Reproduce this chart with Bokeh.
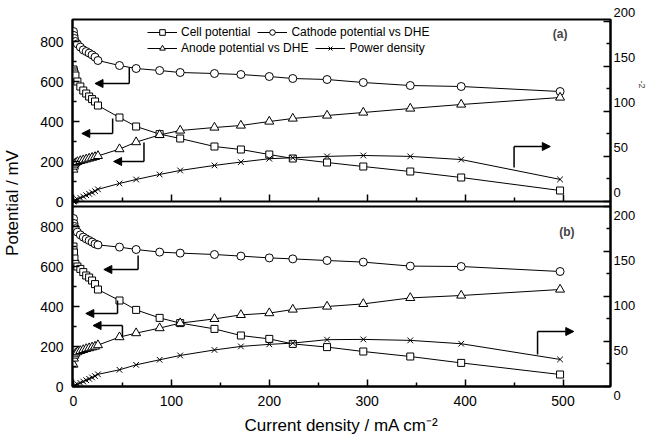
from bokeh.plotting import figure
from bokeh.models import (Range1d, LinearAxis, FixedTicker, Legend, LegendItem, Arrow,
                          NormalHead, Label, Span, Title)
from bokeh.embed import file_html
from bokeh.resources import INLINE

# ---------------- data ----------------
current = [0, 0.5, 1, 2, 4, 7, 10, 13, 16, 19, 22, 25, 47, 64, 88, 109, 144, 171,
           200, 224, 259, 296, 344, 396, 497]

# panel (a)
cell_a = [660, 650, 640, 630, 600, 575, 555, 540, 525, 512, 500, 480, 420, 375, 337, 315,
          275, 260, 235, 215, 195, 175, 150, 120, 55]
cathode_a = [850, 830, 815, 800, 788, 772, 758, 750, 742, 733, 722, 705, 680, 665, 655, 645,
             640, 635, 625, 615, 610, 595, 580, 575, 550]
anode_a = [160, 175, 185, 192, 198, 203, 207, 211, 215, 219, 223, 228, 262, 297, 333, 355,
           370, 380, 400, 415, 430, 445, 465, 485, 520]
power_a = [0, 0.5, 1, 1.5, 2.5, 4, 5.5, 7, 8.5, 10, 11.5, 13.5, 20, 24.4, 30, 34.4,
           40, 43.7, 47.4, 48.5, 50, 51, 50, 46.5, 24.5]

# panel (b)
cell_b = [700, 670, 640, 613, 600, 588, 572, 555, 545, 530, 512, 485, 430, 383, 343, 317,
          288, 255, 238, 213, 197, 175, 150, 118, 60]
cathode_b = [840, 815, 800, 789, 772, 758, 747, 738, 730, 722, 713, 708, 697, 685, 672, 667,
             660, 652, 643, 638, 630, 622, 602, 600, 575]
anode_b = [110, 140, 155, 165, 172, 178, 183, 188, 192, 196, 200, 207, 247, 267, 292, 317,
           338, 358, 367, 385, 400, 413, 443, 455, 485]
power_b = [0, 0.5, 1, 1.5, 2.5, 4, 5.5, 7, 8.5, 10, 11.5, 13.5, 18.5, 24, 29.6, 34.4,
           40.5, 44.4, 46.7, 48.1, 51.9, 52.2, 51.1, 47.4, 30]

series_labels = ["Cell potential", "Cathode potential vs DHE",
                 "Anode potential vs DHE", "Power density"]

x_ticks = [0, 100, 200, 300, 400, 500]
x_minor = [50, 150, 250, 350, 450]
pot_ticks = [0, 200, 400, 600, 800]
pot_minor = [100, 300, 500, 700]
pow_ticks = [0, 50, 100, 150, 200]
pow_minor = [25, 75, 125, 175]

# arrows pointing to the axis used by each curve: [vertical x, y from, y to, tip x]
arrows_a = [[57, 670, 590, 22], [40, 415, 340, 8.5], [72, 295, 200, 41], [450, 170, 275, 487]]
arrows_b = [[66, 655, 585, 31], [45, 430, 365, 12.6], [50, 245, 305, 20], [474, 160, 275, 511]]

# ---------------- layout ----------------
FONT = "Liberation Sans"
X0, X1 = -1.0, 548.5
LEFT_SPAN = 1835            # panel (b) potential scale across the whole frame
TOP_SHIFT = 925             # panel (a) zero, expressed on that scale
R_SPAN = 406.7              # panel (b) power scale across the whole frame
R_SHIFT = 205               # panel (a) power zero, expressed on that scale

p = figure(width=646, height=441, x_range=Range1d(X0, X1), y_range=Range1d(0, LEFT_SPAN),
           output_backend="svg", toolbar_location=None, x_axis_type=None, y_axis_type=None,
           min_border_left=72, min_border_right=36, min_border_top=19, min_border_bottom=55)
p.extra_y_ranges = {
    "topL": Range1d(-TOP_SHIFT, LEFT_SPAN - TOP_SHIFT),
    "topR": Range1d(-R_SHIFT, R_SPAN - R_SHIFT),
    "botR": Range1d(0, R_SPAN),
}
p.grid.visible = False
p.outline_line_color = "black"
p.outline_line_width = 2
p.background_fill_color = "white"
p.border_fill_color = "white"


def style_axis(ax, size="14px"):
    ax.axis_line_width = 2
    ax.axis_line_color = "black"
    ax.major_tick_in = 7
    ax.major_tick_out = 0
    ax.minor_tick_in = 4
    ax.minor_tick_out = 0
    ax.major_tick_line_width = 1.5
    ax.minor_tick_line_width = 1.5
    ax.major_label_text_font = FONT
    ax.major_label_text_font_size = size
    ax.major_label_text_color = "black"
    ax.axis_label_text_font = FONT
    ax.axis_label_text_font_style = "normal"
    ax.axis_label_text_font_size = "17px"
    ax.axis_label_text_color = "black"


# bottom x axis
xb = LinearAxis(ticker=FixedTicker(ticks=x_ticks, minor_ticks=x_minor),
                axis_label="Current density / mA cm\u207b\u00b2")
style_axis(xb)
xb.major_label_standoff = 9
xb.axis_label_standoff = 7
p.add_layout(xb, "below")

# axis line + ticks closing the bottom of panel (a)
xt = LinearAxis(ticker=FixedTicker(ticks=x_ticks, minor_ticks=x_minor),
                fixed_location=TOP_SHIFT,
                major_label_overrides={t: "" for t in x_ticks})
style_axis(xt)
p.add_layout(xt, "below")

# top edge of panel (b)
p.add_layout(Span(location=900, dimension="width", line_color="black", line_width=2))

# left axis: both panels' potential ticks on one axis
left_ticks = pot_ticks + [t + TOP_SHIFT for t in pot_ticks]
left_minor = pot_minor + [t + TOP_SHIFT for t in pot_minor]
yl = LinearAxis(ticker=FixedTicker(ticks=left_ticks, minor_ticks=left_minor),
                axis_label="Potential / mV",
                major_label_overrides={t + TOP_SHIFT: str(t) for t in pot_ticks})
style_axis(yl)
yl.major_label_standoff = 9
yl.axis_label_standoff = 15
p.add_layout(yl, "left")

# right axis: both panels' power-density ticks on one axis
right_ticks = pow_ticks + [t + R_SHIFT for t in pow_ticks]
right_minor = pow_minor + [t + R_SHIFT for t in pow_minor]
right_labels = {t: "\n" + str(t) for t in pow_ticks}
right_labels.update({t + R_SHIFT: str(t) + "\n" for t in pow_ticks})
yr = LinearAxis(y_range_name="botR",
                ticker=FixedTicker(ticks=right_ticks, minor_ticks=right_minor),
                major_label_overrides=right_labels)
style_axis(yr, size="13px")
yr.major_label_standoff = 3
p.add_layout(yr, "right")

# visible end of the (cropped) right-hand axis title
p.add_layout(Title(text="-2", text_font=FONT, text_font_size="9px", text_font_style="normal",
                   standoff=0, align="left", offset=61), "right")

# ---------------- series ----------------
markers = ["square", "circle", "triangle", "x"]
sizes = [7, 8, 9, 8]


def draw_panel(cell, cath, anode, power, lrange, prange):
    rs = []
    for ys, mk, sz, rng in ((cell, markers[0], sizes[0], lrange),
                            (cath, markers[1], sizes[1], lrange),
                            (anode, markers[2], sizes[2], lrange),
                            (power, markers[3], sizes[3], prange)):
        kw = {} if rng == "default" else {"y_range_name": rng}
        ln = p.line(current, ys, line_color="black", line_width=1, **kw)
        sc = p.scatter(current, ys, marker=mk, size=sz, fill_color="white",
                       line_color="black", line_width=1, **kw)
        rs.append((ln, sc))
    return rs


rs_a = draw_panel(cell_a, cathode_a, anode_a, power_a, "topL", "topR")
rs_b = draw_panel(cell_b, cathode_b, anode_b, power_b, "default", "botR")

# arrows
for arrs, rng in ((arrows_a, "topL"), (arrows_b, "default")):
    for ax_, y0, y1, tip in arrs:
        p.add_layout(Arrow(end=None, x_start=ax_, y_start=y0, x_end=ax_, y_end=y1,
                           line_color="black", line_width=1.5, y_range_name=rng))
        p.add_layout(Arrow(end=NormalHead(size=8, fill_color="black", line_color="black"),
                           x_start=ax_, y_start=y1, x_end=tip, y_end=y1,
                           line_color="black", line_width=1.5, y_range_name=rng))

# legends (two rows)
leg_common = dict(orientation="horizontal", border_line_color=None, background_fill_alpha=0,
                  padding=0, margin=0, spacing=7, label_standoff=4, glyph_width=30,
                  glyph_height=14, label_height=14, label_text_font=FONT,
                  label_text_font_size="12px", label_text_color="black")
leg1 = Legend(items=[LegendItem(label=series_labels[0], renderers=list(rs_a[0])),
                     LegendItem(label=series_labels[1], renderers=list(rs_a[1]))],
              location=(75, 347), **leg_common)
leg2 = Legend(items=[LegendItem(label=series_labels[2], renderers=list(rs_a[2])),
                     LegendItem(label=series_labels[3], renderers=list(rs_a[3]))],
              location=(75, 331), **leg_common)
p.add_layout(leg1)
p.add_layout(leg2)

# panel tags
p.add_layout(Label(x=497, y=840, y_range_name="topL", text="(a)", text_font=FONT,
                   text_font_size="12px", text_font_style="bold", text_align="center",
                   text_baseline="middle"))
p.add_layout(Label(x=504, y=775, text="(b)", text_font=FONT, text_font_size="12px",
                   text_font_style="bold", text_align="center", text_baseline="middle"))

open("out.html", "w").write(file_html(p, INLINE))
